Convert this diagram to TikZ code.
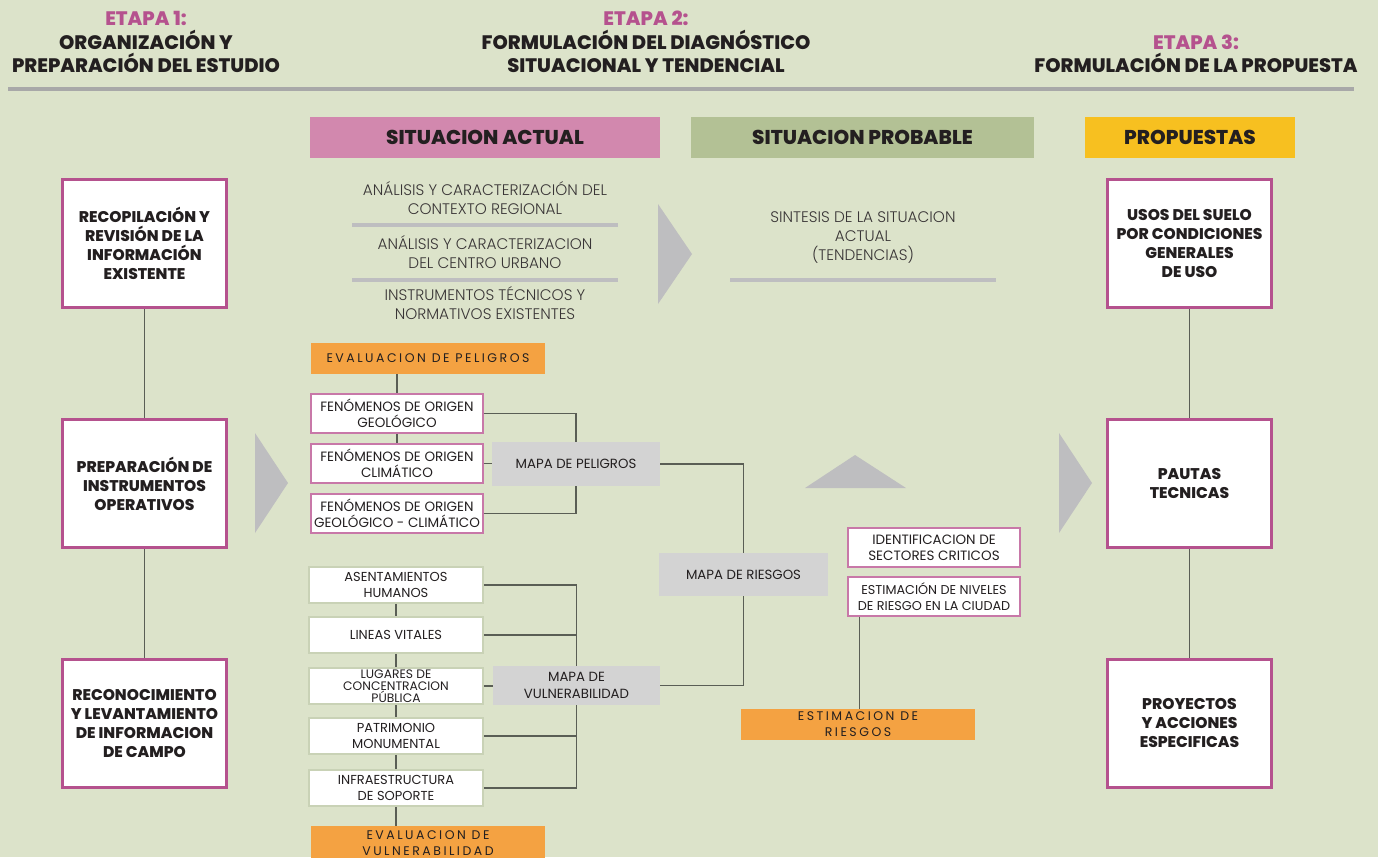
\documentclass[tikz,border=0pt]{standalone}
\usepackage{fontspec}
\setmainfont{Poppins}[BoldFont=*-ExtraBold]
\newfontfamily\lightfont{Poppins}[UprightFont=*-Light]
\newfontfamily\spacedfont{Poppins}[LetterSpace=20]
\definecolor{bg}{HTML}{DCE3CA}
\definecolor{pinkbar}{HTML}{D288AE}
\definecolor{greenbar}{HTML}{B3C195}
\definecolor{yellowbar}{HTML}{F7C020}
\definecolor{orangebar}{HTML}{F4A242}
\definecolor{hline}{HTML}{A8A8A8}
\definecolor{tri}{HTML}{BEBEC0}
\definecolor{mapgray}{HTML}{D3D3D3}
\definecolor{magenta}{HTML}{B5528E}
\definecolor{thinpink}{HTML}{C878A8}
\definecolor{thingreen}{HTML}{C9D2B6}
\definecolor{conn}{HTML}{5A5E55}
\definecolor{ink}{HTML}{231F20}
\begin{document}
\begin{tikzpicture}[x=1pt,y=-1pt,
  hdr/.style={align=center,font=\bfseries\fontsize{19.5}{23.5}\selectfont,text=ink,inner sep=0pt},
  bar/.style={minimum height=41pt,inner sep=0pt,font=\bfseries\fontsize{20}{22}\selectfont,text=ink},
  bigbox/.style={draw=magenta,line width=3pt,fill=white,minimum width=164pt,minimum height=128pt,align=center,font=\bfseries\fontsize{15.5}{19}\selectfont,text=ink,inner sep=0pt},
  lt/.style={align=center,font=\lightfont\fontsize{15.3}{19}\selectfont,text=ink!90,inner sep=0pt},
  sep/.style={line width=4pt,draw=tri},
  orange/.style={fill=orangebar,minimum width=234pt,inner sep=0pt,align=center,text=ink,font=\spacedfont\fontsize{12.5}{16}\selectfont},
  pinkbox/.style={draw=thinpink,line width=1.5pt,fill=white,minimum width=172pt,minimum height=39pt,inner sep=0pt,align=center,text=ink,font=\fontsize{13.5}{16}\selectfont},
  vbox/.style={draw=thingreen,line width=1.5pt,fill=white,minimum width=174pt,minimum height=36pt,inner sep=0pt,align=center,text=ink,font=\fontsize{13}{16}\selectfont},
  mapbox/.style={fill=mapgray,inner sep=0pt,align=center,text=ink,font=\fontsize{13.3}{16.5}\selectfont},
  ln/.style={draw=conn,line width=1.2pt}
]
\fill[bg] (0,0) rectangle (1378,857);
\useasboundingbox (0,0) rectangle (1378,857);
\clip (0,0) rectangle (1378,857);

% headers
\node[hdr] (h1) at (146,42) {\textcolor{magenta}{ETAPA 1:}\\ORGANIZACIÓN Y\\PREPARACIÓN DEL ESTUDIO};
\node[hdr] (h2) at (646,42) {\textcolor{magenta}{ETAPA 2:}\\FORMULACIÓN DEL DIAGNÓSTICO\\SITUACIONAL Y TENDENCIAL};
\node[hdr] (h3) at (1196,54) {\textcolor{magenta}{ETAPA 3:}\\FORMULACIÓN DE LA PROPUESTA};
\draw[line width=4.5pt,hline] (8,89) -- (1354,89);

% bars
\node[bar,fill=pinkbar,minimum width=350pt] (sa) at (485,137.5) {SITUACION ACTUAL};
\node[bar,fill=greenbar,minimum width=343pt] (sp) at (862.5,137.5) {SITUACION PROBABLE};
\node[bar,fill=yellowbar,minimum width=210pt] (pr) at (1190,137.5) {PROPUESTAS};

% left boxes
\node[bigbox] (b1) at (144.5,243.5) {RECOPILACIÓN Y\\REVISIÓN DE LA\\INFORMACIÓN\\EXISTENTE};
\node[bigbox] (b2) at (144.5,483.5) {PREPARACIÓN DE\\INSTRUMENTOS\\OPERATIVOS};
\node[bigbox] (b3) at (144.5,723) {RECONOCIMIENTO\\Y LEVANTAMIENTO\\DE INFORMACION\\DE CAMPO};
\draw[ln] (b1.south) -- (b2.north);
\draw[ln] (b2.south) -- (b3.north);

% right boxes
\node[bigbox] (r1) at (1189.5,243.5) {USOS DEL SUELO\\POR CONDICIONES\\GENERALES\\DE USO};
\node[bigbox] (r2) at (1189.5,483.5) {PAUTAS\\TECNICAS};
\node[bigbox] (r3) at (1189.5,723) {PROYECTOS\\Y ACCIONES\\ESPECIFICAS};
\draw[ln] (r1.south) -- (r2.north);
\draw[ln] (r2.south) -- (r3.north);

% triangles
\fill[tri] (255,433) -- (288,483) -- (255,533) -- cycle;
\fill[tri] (658,204) -- (692,254) -- (658,304) -- cycle;
\fill[tri] (1059,433) -- (1092,483) -- (1059,533) -- cycle;
\fill[tri] (805,488) -- (855,455) -- (906,488) -- cycle;

% situacion actual text
\node[lt] (t1) at (485,198.5) {ANÁLISIS Y CARACTERIZACIÓN DEL\\CONTEXTO REGIONAL};
\draw[sep] (352,225) -- (618,225);
\node[lt] (t2) at (485,252.5) {ANÁLISIS Y CARACTERIZACION\\DEL CENTRO URBANO};
\draw[sep] (352,280) -- (618,280);
\node[lt] (t3) at (485,303) {INSTRUMENTOS TÉCNICOS Y\\NORMATIVOS EXISTENTES};

% situacion probable text
\node[lt] (t4) at (863,237.5) {SINTESIS DE LA SITUACION\\ACTUAL\\(TENDENCIAS)};
\draw[sep] (730,280) -- (996,280);

% peligros
\node[orange,minimum height=31pt] (ep) at (428,358.5) {EVALUACION DE PELIGROS};
\node[pinkbox] (fg1) at (397,413.5) {FENÓMENOS DE ORIGEN\\GEOLÓGICO};
\node[pinkbox] (fg2) at (397,463.5) {FENÓMENOS DE ORIGEN\\CLIMÁTICO};
\node[pinkbox] (fg3) at (397,513.5) {FENÓMENOS DE ORIGEN\\GEOLÓGICO - CLIMÁTICO};
\node[mapbox,minimum width=168pt,minimum height=44pt] (mp) at (576,464) {MAPA DE PELIGROS};
\draw[ln] (fg1.north |- ep.south) -- (fg1.north);
\draw[ln] (fg1.south) -- (fg2.north);
\draw[ln] (fg1.east) -| (mp.north);
\draw[ln] (fg3.east) -| (mp.south);
\draw[ln] (fg2.east) -- (fg2.east -| mp.west);

% riesgos
\node[mapbox,minimum width=169pt,minimum height=43pt] (mr) at (743.5,574.5) {MAPA DE RIESGOS};
\node[mapbox,minimum width=167pt,minimum height=39pt] (mv) at (576.5,685.5) {MAPA DE\\VULNERABILIDAD};
\draw[ln] (mp.east) -| (mr.north);
\draw[ln] (mv.east) -| (mr.south);

% vulnerabilidad
\node[vbox] (v1) at (396,585) {ASENTAMIENTOS\\HUMANOS};
\node[vbox,font=\fontsize{13}{13}\selectfont] (v2) at (396,635) {LINEAS VITALES};
\node[vbox,font=\fontsize{12.3}{12.3}\selectfont] (v3) at (396,686) {LUGARES DE\\CONCENTRACION\\PÚBLICA};
\node[vbox] (v4) at (396,736) {PATRIMONIO\\MONUMENTAL};
\node[vbox] (v5) at (396,788) {INFRAESTRUCTURA\\DE SOPORTE};
\node[orange,minimum height=33pt,anchor=north] (ev) at (428,826) {EVALUACION DE\\VULNERABILIDAD};
\draw[ln] (v1.south) -- (v2.north);
\draw[ln] (v2.south) -- (v3.north);
\draw[ln] (v3.south) -- (v4.north);
\draw[ln] (v4.south) -- (v5.north);
\draw[ln] (v5.south) -- (v5.south |- ev.north);
\draw[ln] (v1.east) -| (mv.north);
\draw[ln] (v2.east) -- (v2.east -| mv.north);
\draw[ln] (v3.east) -- (v3.east -| mv.west);
\draw[ln] (v5.east) -| (mv.south);
\draw[ln] (v4.east) -- (v4.east -| mv.south);

% estimacion
\node[pinkbox,minimum width=172pt] (id) at (934,547.5) {IDENTIFICACION DE\\SECTORES CRITICOS};
\node[pinkbox,minimum width=172pt,font=\fontsize{12.8}{16}\selectfont] (en) at (934,596.5) {ESTIMACIÓN DE NIVELES\\DE RIESGO EN LA CIUDAD};
\node[orange,minimum height=31pt] (er) at (858,724.5) {ESTIMACION DE\\RIESGOS};
\coordinate (enx) at ([xshift=12pt]en.south west);
\draw[ln] (enx) -- (enx |- er.north);
\end{tikzpicture}
\end{document}
